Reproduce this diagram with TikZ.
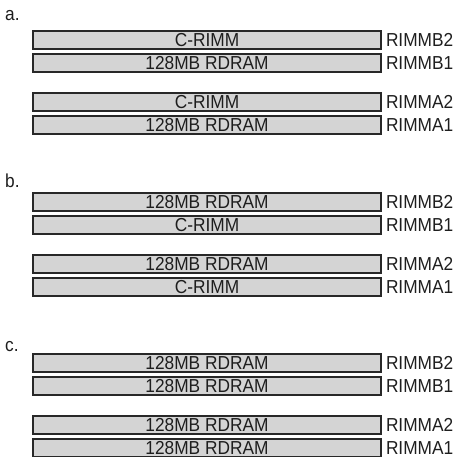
\documentclass[tikz,border=0pt]{standalone}
\usepackage{fontspec}
\setmainfont{Liberation Sans}[FakeStretch=0.92]
\usetikzlibrary{positioning}

\definecolor{rimmfill}{RGB}{212,212,212}
\definecolor{rimmdraw}{RGB}{40,40,40}
\definecolor{rimmtext}{RGB}{30,30,30}

\begin{document}
\begin{tikzpicture}[
    font=\fontsize{18.8}{21}\selectfont,
    text=rimmtext,
    rimm/.style={
        rectangle,
        draw=rimmdraw,
        line width=1.6pt,
        fill=rimmfill,
        minimum width=348pt,
        minimum height=18pt,
        inner sep=0pt
    },
    slot/.style={
        anchor=west,
        inner sep=0pt
    },
    part/.style={
        anchor=base west,
        inner sep=0pt
    }
]
\useasboundingbox (0,0) rectangle (457pt,-457pt);

% a.
\node[part] (laba) at (5pt,-21pt) {a.};
\node[rimm] (a4) at (207pt,-40pt) {C-RIMM};
\node[rimm, below=3.4pt of a4] (a3) {128MB RDRAM};
\node[rimm, below=19.4pt of a3] (a2) {C-RIMM};
\node[rimm, below=3.4pt of a2] (a1) {128MB RDRAM};
\node[slot, right=4pt of a4] (sa4) {RIMMB2};
\node[slot, right=4pt of a3] (sa3) {RIMMB1};
\node[slot, right=4pt of a2] (sa2) {RIMMA2};
\node[slot, right=4pt of a1] (sa1) {RIMMA1};

% b.
\node[part] (labb) at (5pt,-187pt) {b.};
\node[rimm] (b4) at (207pt,-202pt) {128MB RDRAM};
\node[rimm, below=3.4pt of b4] (b3) {C-RIMM};
\node[rimm, below=19.4pt of b3] (b2) {128MB RDRAM};
\node[rimm, below=3.4pt of b2] (b1) {C-RIMM};
\node[slot, right=4pt of b4] (sb4) {RIMMB2};
\node[slot, right=4pt of b3] (sb3) {RIMMB1};
\node[slot, right=4pt of b2] (sb2) {RIMMA2};
\node[slot, right=4pt of b1] (sb1) {RIMMA1};

% c.
\node[part] (labc) at (5pt,-351pt) {c.};
\node[rimm] (c4) at (207pt,-363pt) {128MB RDRAM};
\node[rimm, below=3.4pt of c4] (c3) {128MB RDRAM};
\node[rimm, below=19.4pt of c3] (c2) {128MB RDRAM};
\node[rimm, below=3.4pt of c2] (c1) {128MB RDRAM};
\node[slot, right=4pt of c4] (sc4) {RIMMB2};
\node[slot, right=4pt of c3] (sc3) {RIMMB1};
\node[slot, right=4pt of c2] (sc2) {RIMMA2};
\node[slot, right=4pt of c1] (sc1) {RIMMA1};

\end{tikzpicture}
\end{document}
